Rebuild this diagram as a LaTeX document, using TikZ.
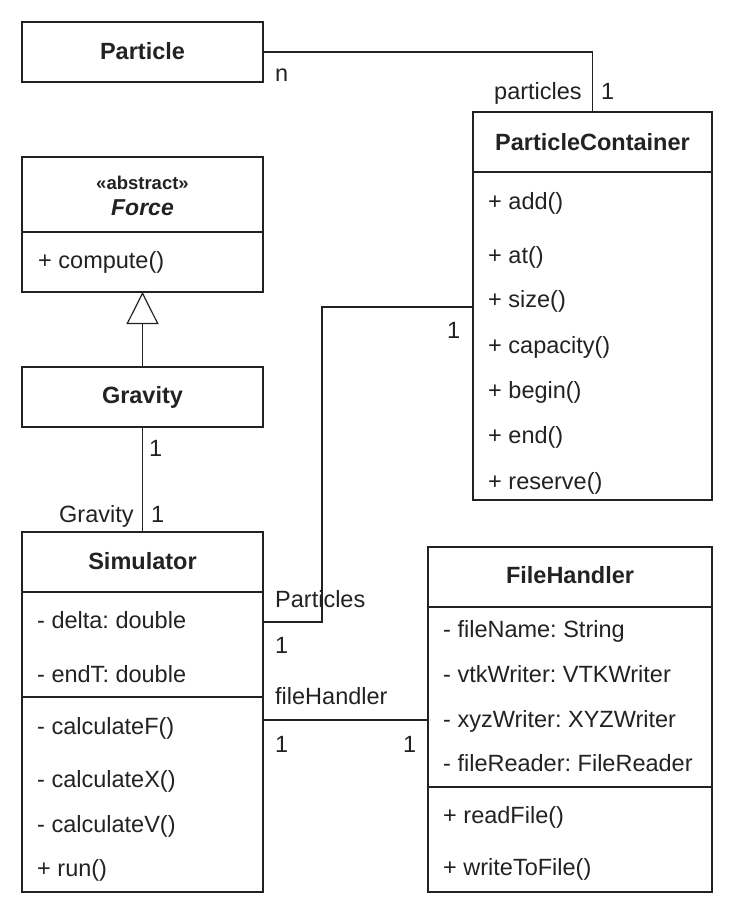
\documentclass[tikz,border=0pt]{standalone}
\usepackage{fontspec}
\setmainfont{Liberation Sans}
\usepackage{xcolor}
\usetikzlibrary{arrows.meta, calc, positioning}
\definecolor{ink}{HTML}{222222}
\frenchspacing

\begin{document}
\begin{tikzpicture}[% styles used in image code
   x=1pt, y=-1pt,
   font=\fontsize{23.5}{28}\selectfont,
    cls/.style = {draw=ink, line width=1.2pt, inner sep=0pt, outer sep=0pt,
                  anchor=north west},
    ttl/.style = {anchor=base, inner sep=0pt, text=ink, font=\fontsize{23.5}{28}\selectfont\bfseries},
    txt/.style = {anchor=base west, inner sep=0pt, text=ink},
    rel/.style = {draw=ink, line width=1.2pt},
                        ]
	\useasboundingbox (0,0) rectangle (735,915);

	% class boxes
	\node[cls, minimum width=241pt, minimum height=60pt]  (particle)    at (22,22)   {};
	\node[cls, minimum width=239pt, minimum height=388pt] (container)   at (473,112) {};
	\node[cls, minimum width=241pt, minimum height=135pt] (force)       at (22,157)  {};
	\node[cls, minimum width=241pt, minimum height=60pt]  (gravity)     at (22,367)  {};
	\node[cls, minimum width=241pt, minimum height=360pt] (simulator)   at (22,532)  {};
	\node[cls, minimum width=284pt, minimum height=345pt] (filehandler) at (428,547) {};

	% compartments
	\draw[rel] ($(container.north west)+(0,60)$)   -- ++(239,0);
	\draw[rel] ($(force.north west)+(0,75)$)       -- ++(241,0);
	\draw[rel] ($(simulator.north west)+(0,60)$)   -- ++(241,0);
	\draw[rel] ($(simulator.north west)+(0,165)$)  -- ++(241,0);
	\draw[rel] ($(filehandler.north west)+(0,60)$) -- ++(284,0);
	\draw[rel] ($(filehandler.north west)+(0,240)$) -- ++(284,0);

	% class names
	\node[ttl] (tPart) at (142.5,60)  {Particle};
	\node[ttl] (tCont) at (592.5,150) {ParticleContainer};
	\node[ttl, font=\fontsize{18.5}{22}\selectfont\bfseries] (tAbs) at (142.5,189) {«abstract»};
	\node[ttl, font=\fontsize{23}{28}\selectfont\bfseries\itshape] (tForce) at (142.5,215) {Force};
	\node[ttl] (tGrav) at (142.5,403) {Gravity};
	\node[ttl] (tSim)  at (142.5,569) {Simulator};
	\node[ttl] (tFile) at (570,583)   {FileHandler};

	% members
	\foreach \y/\t in {209/+ add(), 263/+ at(), 307/+ size(), 353/+ capacity(),
	                   398/+ begin(), 443/+ end(), 489/+ reserve()}
		\node[txt] at (488,\y) {\t};
	\node[txt] (mComp) at (38,268) {+ compute()};
	\foreach \y/\t in {628/- delta: double, 682/- endT: double, 734/- calculateF(),
	                   787/- calculateX(), 832/- calculateV(), 876/+ run()}
		\node[txt] at (37,\y) {\t};
	\foreach \y/\t in {637/- fileName: String, 682/- vtkWriter: VTKWriter,
	                   727/- xyzWriter: XYZWriter, 771/- fileReader: FileReader,
	                   823/+ readFile(), 875/+ writeToFile()}
		\node[txt] at (443,\y) {\t};

	% relations
	\coordinate (pA) at ($(container.north west)+(0,195)$);
	\coordinate (sA) at ($(simulator.north east)+(0,90)$);
	\coordinate (sF) at ($(simulator.north east)+(0,188)$);

	\draw[rel] (particle.east) -| (container.north);
	\draw[rel, -{Triangle[open, length=32pt, width=32pt]}] (gravity.north) -- (force.south);
	\draw[rel] (gravity.south) -- (simulator.north);
	\draw[rel] (pA) -- ++(-151,0) |- (sA);
	\draw[rel] (sF) -- (sF -| filehandler.west);

	% multiplicities and role names
	\node[txt] (mN)    at (275,82)  {n};
	\node[txt] (mPs)   at (494,100) {particles};
	\node[txt] (mP1)   at (601,100) {1};
	\node[txt] (mC1)   at (447,338) {1};
	\node[txt] (mG1)   at (149,456) {1};
	\node[txt] (mGrav) at (59,522)  {Gravity};
	\node[txt] (mS1)   at (151,522) {1};
	\node[txt] (mPart) at (275,607) {Particles};
	\node[txt] (mA1)   at (275,653) {1};
	\node[txt] (mFH)   at (275,704) {fileHandler};
	\node[txt] (mF1)   at (275,752) {1};
	\node[txt] (mF2)   at (403,752) {1};

\end{tikzpicture}
\end{document}
